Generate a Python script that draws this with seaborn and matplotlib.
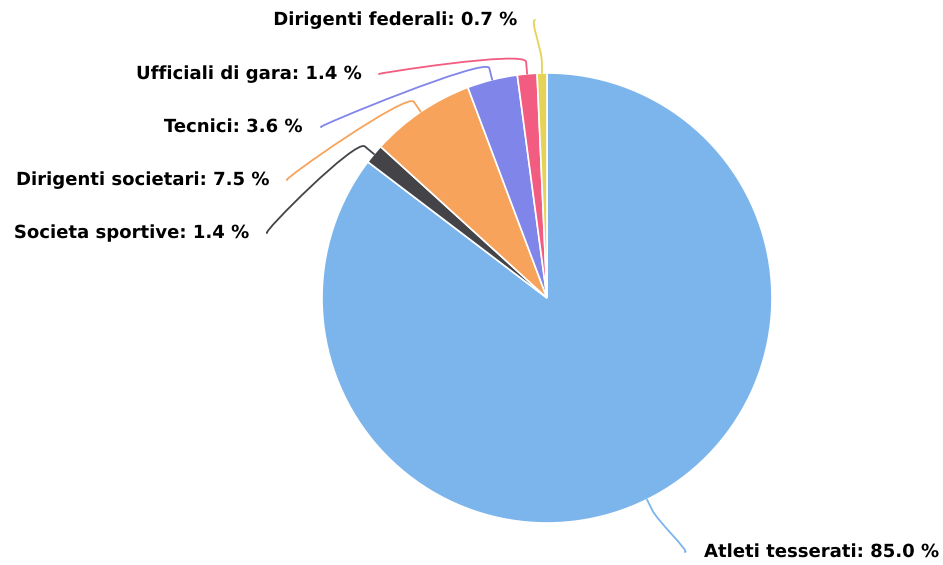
import numpy as np
import matplotlib
matplotlib.use("Agg")
import matplotlib.pyplot as plt
import matplotlib.patheffects as pe
from matplotlib.path import Path
from matplotlib.patches import PathPatch
import seaborn as sns

categories = ["Atleti tesserati", "Societa sportive", "Dirigenti societari",
              "Tecnici", "Ufficiali di gara", "Dirigenti federali"]
shares = [85.0, 1.4, 7.5, 3.6, 1.4, 0.7]
colors = ["#7cb5ec", "#434348", "#f7a35c", "#8085e9", "#f15c80", "#e4d354"]

# label anchor points in pixels (x of connector end, y), and text side
label_pos = [(690, 552, "left"), (262, 233, "right"), (282, 180, "right"),
             (316, 127, "right"), (374, 74, "right"), (530, 20, "right")]

W, H = 943, 565
cx, cy, R = 547, 298, 225

sns.set_theme(style="white")
plt.rcParams["font.family"] = ["DejaVu Sans"]

fig = plt.figure(figsize=(W / 100, H / 100), dpi=100)
ax = fig.add_axes([0, 0, 1, 1])

ax.pie(shares, colors=colors, startangle=90, counterclock=False,
       center=(cx, H - cy), radius=R,
       wedgeprops=dict(edgecolor="white", linewidth=1.2), frame=False)
ax.set_xlim(0, W)
ax.set_ylim(0, H)
ax.set_aspect("equal")
ax.axis("off")

total = sum(shares)
cum = 0.0
for name, val, col, (lx, ly, side) in zip(categories, shares, colors, label_pos):
    mid = (cum + val / 2) / total * 2 * np.pi
    cum += val
    dx, dy = np.sin(mid), np.cos(mid)
    touch = np.array([cx + dx * R, H - cy + dy * R])
    brk = np.array([cx + dx * (R + 12), H - cy + dy * (R + 12)])
    end = np.array([lx, H - ly])
    start = end + np.array([-5 if side == "left" else 5, 0])
    ctrl2 = 2 * brk - touch
    verts = [start, end, ctrl2, brk, touch]
    codes = [Path.MOVETO, Path.CURVE4, Path.CURVE4, Path.CURVE4, Path.LINETO]
    ax.add_patch(PathPatch(Path(verts, codes), facecolor="none", edgecolor=col,
                           lw=1.3, joinstyle="round", capstyle="round"))
    tx = lx + 14 if side == "left" else lx - 14
    ha = "left" if side == "left" else "right"
    ax.text(tx, H - ly, f"{name}: {val:.1f} %", ha=ha, va="center",
            fontsize=13, fontweight="bold", color="#000000",
            path_effects=[pe.withStroke(linewidth=2, foreground="white")])

fig.savefig("out.png", dpi=100)
